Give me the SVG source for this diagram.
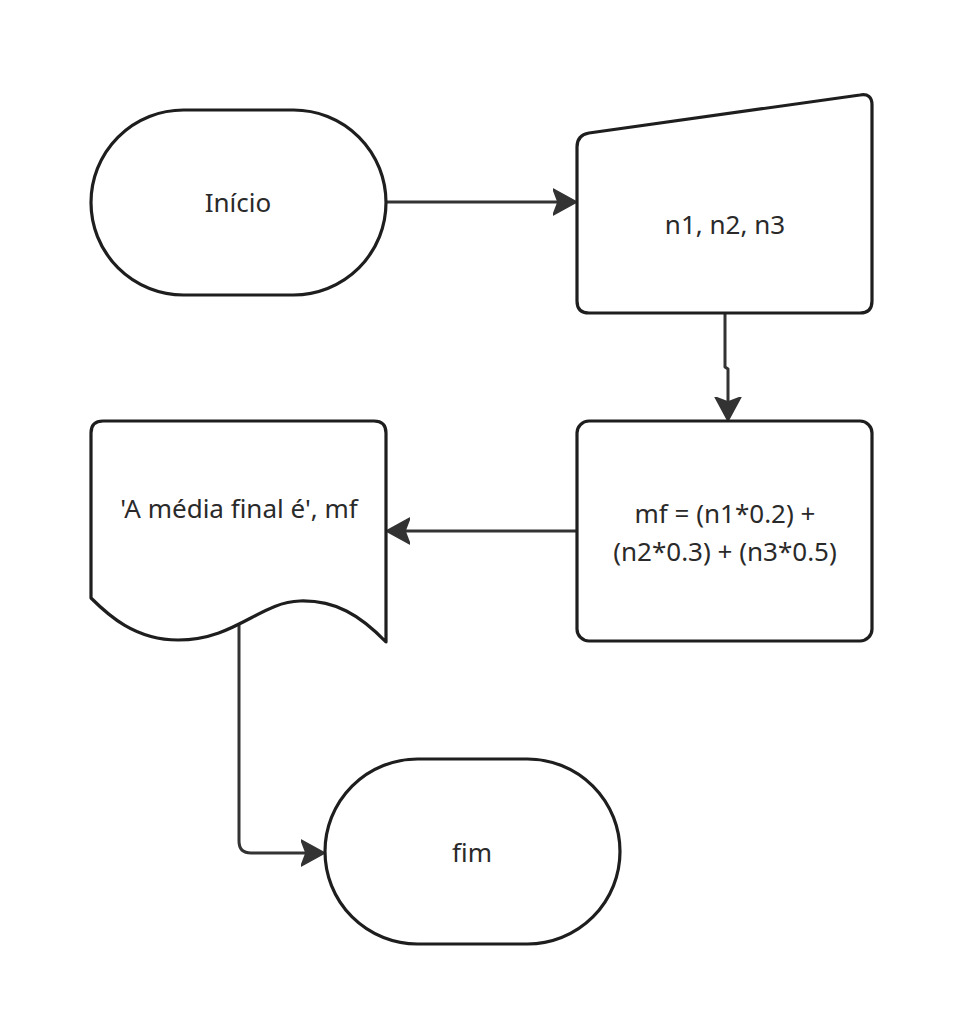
<svg xmlns="http://www.w3.org/2000/svg" width="965" height="1035" viewBox="0 0 965 1035">
  <style>
    .shape { fill: #ffffff; stroke: #1e1e1e; stroke-width: 3.2; stroke-linejoin: round; }
    .label { font-family: "Noto Sans", "Open Sans", sans-serif; font-size: 26px; fill: #2a2a2a; text-anchor: middle; }
    .wire { fill: none; stroke: #333333; stroke-width: 3; stroke-linejoin: round; }
  </style>
  <defs>
    <marker id="head" viewBox="0 0 24 28" refX="22" refY="14" markerWidth="24" markerHeight="28" markerUnits="userSpaceOnUse" orient="auto">
      <path d="M0,1 L24,14 L0,27 L5,14 Z" fill="#333333" stroke="#333333" stroke-width="1.5" stroke-linejoin="round"/>
    </marker>
  </defs>
  <rect width="965" height="1035" fill="#ffffff"/>

  <g id="connectors">
    <path class="wire" d="M387,202 L575,202" marker-end="url(#head)"/>
    <path class="wire" d="M725,314 L725,367 L728,369 L728,419" marker-end="url(#head)"/>
    <path class="wire" d="M576,531 L388,531" marker-end="url(#head)"/>
    <path class="wire" d="M239,619 L239,841 Q239,853 251,853 L323,853" marker-end="url(#head)"/>
  </g>

  <g id="inicio">
    <rect class="shape" x="91" y="110" width="295" height="185" rx="92.5" ry="92.5"/>
    <text class="label" x="238" y="212">Início</text>
  </g>

  <g id="entrada">
    <path class="shape" d="M589,133 L860,95 Q872,93 872,105 L872,301 Q872,313 860,313 L589,313 Q577,313 577,301 L577,147 Q577,135 589,133 Z"/>
    <text class="label" x="725" y="234">n1, n2, n3</text>
  </g>

  <g id="calculo">
    <rect class="shape" x="577" y="421" width="295" height="220" rx="12" ry="12"/>
    <text class="label" x="725" y="523">mf = (n1*0.2) +</text>
    <text class="label" x="725" y="561">(n2*0.3) + (n3*0.5)</text>
  </g>

  <g id="saida">
    <path class="shape" d="M103,421 L374,421 Q386,421 386,433 L386,642 C360,615 335,600 300,601 C260,602 235,640 178,640 C135,640 108,615 91,598 L91,433 Q91,421 103,421 Z"/>
    <text class="label" x="239" y="518">'A média final é', mf</text>
  </g>

  <g id="fim">
    <rect class="shape" x="325" y="759" width="295" height="185" rx="92.5" ry="92.5"/>
    <text class="label" x="472" y="862">fim</text>
  </g>
</svg>
